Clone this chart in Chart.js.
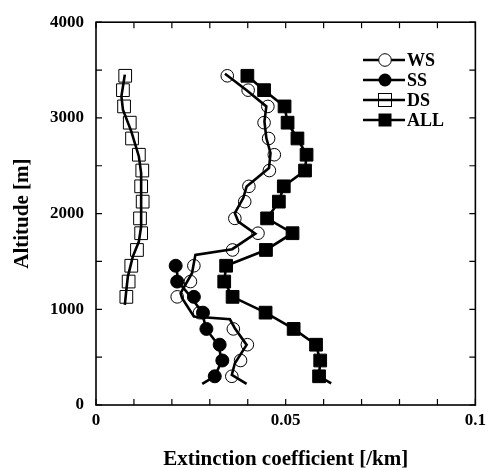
<!DOCTYPE html>
<html>
<head>
<meta charset="utf-8">
<script src="https://cdn.jsdelivr.net/npm/chart.js@4.4.1/dist/chart.umd.min.js"></script>
<style>
  html, body { margin: 0; padding: 0; background: #ffffff; }
  #wrap { width: 491px; height: 470px; position: relative; }
</style>
</head>
<body>
<div id="wrap"><canvas id="c" width="491" height="470"></canvas></div>
<script>
// ---- data ----
const altitudes = [300, 465, 630, 795, 965, 1130, 1290, 1455, 1620, 1795, 1950, 2125, 2285, 2450, 2615, 2785, 2950, 3120, 3290, 3440];

const allValues = [0.0588, 0.0591, 0.0580, 0.0521, 0.0447, 0.0360, 0.0338, 0.0343, 0.0448, 0.0518, 0.0451, 0.0482, 0.0495, 0.0551, 0.0555, 0.0531, 0.0505, 0.0497, 0.0443, 0.0399];
const wsValues  = [0.0358, 0.0381, 0.0399, 0.0362, 0.0273, 0.0214, 0.0249, 0.0258, 0.0360, 0.0427, 0.0366, 0.0392, 0.0403, 0.0457, 0.0470, 0.0455, 0.0443, 0.0453, 0.0401, 0.0346];
const ssAltitudes = [300, 465, 630, 795, 965, 1130, 1290, 1455];
const ssValues  = [0.0313, 0.0333, 0.0326, 0.0291, 0.0282, 0.0258, 0.0214, 0.0210];
const dsAltitudes = [1130, 1290, 1455, 1620, 1795, 1950, 2125, 2285, 2450, 2615, 2785, 2950, 3120, 3290, 3440];
const dsValues  = [0.0080, 0.0086, 0.0093, 0.0108, 0.0119, 0.0116, 0.0123, 0.0119, 0.0122, 0.0113, 0.0095, 0.0089, 0.0074, 0.0071, 0.0077];

// smoothed profile lines
const wsLineAlt = [220, 314, 436, 628, 802, 896, 924, 1116, 1168, 1377, 1569, 1628, 1790, 1917, 2005, 2162, 2283, 2476, 2633, 2789, 2963, 3120, 3288, 3462];
const wsLineVal = [0.0397, 0.0358, 0.0366, 0.0397, 0.0366, 0.0353, 0.0258, 0.0227, 0.0223, 0.0253, 0.0262, 0.0359, 0.0420, 0.0375, 0.0366, 0.0388, 0.0397, 0.0456, 0.0460, 0.0449, 0.0444, 0.0449, 0.0397, 0.0340];
const ssLineAlt = [220, 300, 465, 630, 795, 965, 1130, 1290, 1455];
const ssLineVal = [0.0280, 0.0313, 0.0332, 0.0322, 0.0290, 0.0280, 0.0250, 0.0216, 0.0212];
const dsLineAlt = [1046, 1203, 1342, 1551, 1708, 1865, 2214, 2423, 2597, 2859, 3086, 3225, 3452];
const dsLineVal = [0.0076, 0.0080, 0.0084, 0.0097, 0.0113, 0.0119, 0.0119, 0.0119, 0.0113, 0.0093, 0.0071, 0.0067, 0.0076];
const allLineAlt = [226, 300, 465, 630, 795, 965, 1130, 1290, 1455, 1620, 1795, 1950, 2125, 2285, 2450, 2615, 2785, 2950, 3120, 3290, 3440];
const allLineVal = [0.0620, 0.0588, 0.0591, 0.0580, 0.0521, 0.0447, 0.0360, 0.0338, 0.0343, 0.0448, 0.0518, 0.0451, 0.0482, 0.0495, 0.0551, 0.0555, 0.0531, 0.0505, 0.0497, 0.0443, 0.0399];

const xTickLabels = {0: '0', 5: '0.05', 10: '0.1'};   // keyed by hundredths
const yTickLabels = ['0', '1000', '2000', '3000', '4000'];
const legendLabels = ['WS', 'SS', 'DS', 'ALL'];
const xTitle = 'Extinction coefficient [/km]';
const yTitle = 'Altitude [m]';

const pts = (xs, ys) => xs.map((v, i) => ({x: v, y: ys[i]}));
const FONT = "'Liberation Serif', 'Times New Roman', serif";

const lineDS = (xs, ys) => ({
  data: pts(xs, ys), showLine: true, pointRadius: 0, borderColor: '#000',
  borderWidth: 2.6, tension: 0, order: 0, fill: false
});
const markDS = (xs, ys, style, r, fillCol, bw) => ({
  data: pts(xs, ys), showLine: false, pointStyle: style, pointRadius: r,
  pointBackgroundColor: fillCol, pointBorderColor: '#000', pointBorderWidth: bw,
  order: 1
});

const frameAndTicks = {
  id: 'frameAndTicks',
  afterDraw(chart) {
    const {ctx, chartArea: a, scales: {x, y}} = chart;
    ctx.save();
    ctx.strokeStyle = '#000';
    ctx.lineWidth = 1.2;
    const L = 6;
    ctx.beginPath();
    for (let k = 0; k <= 10; k++) {
      const px = x.getPixelForValue(k / 100);
      ctx.moveTo(px, a.bottom); ctx.lineTo(px, a.bottom - L);
      ctx.moveTo(px, a.top); ctx.lineTo(px, a.top + L);
    }
    for (let v = 0; v <= 4000; v += 500) {
      const py = y.getPixelForValue(v);
      ctx.moveTo(a.left, py); ctx.lineTo(a.left + L, py);
      ctx.moveTo(a.right, py); ctx.lineTo(a.right - L, py);
    }
    ctx.stroke();
    ctx.lineWidth = 1.6;
    ctx.strokeRect(a.left, a.top, a.right - a.left, a.bottom - a.top);
    ctx.restore();
  }
};

const legendPlugin = {
  id: 'customLegend',
  afterDraw(chart) {
    const {ctx} = chart;
    const rows = [60, 80, 100, 120];
    const x0 = 363, x1 = 405, xm = 385;
    ctx.save();
    ctx.font = "bold 18px " + FONT;
    ctx.textBaseline = 'middle';
    ctx.fillStyle = '#000';
    legendLabels.forEach((lab, i) => {
      const yy = rows[i];
      ctx.strokeStyle = '#000';
      ctx.lineWidth = 2.6;
      ctx.beginPath(); ctx.moveTo(x0, yy); ctx.lineTo(x1, yy); ctx.stroke();
      ctx.lineWidth = 1;
      if (i === 0) {
        ctx.beginPath(); ctx.arc(xm, yy, 6.3, 0, Math.PI * 2);
        ctx.fillStyle = '#fff'; ctx.fill(); ctx.stroke();
      } else if (i === 1) {
        ctx.beginPath(); ctx.arc(xm, yy, 6.5, 0, Math.PI * 2);
        ctx.fillStyle = '#000'; ctx.fill();
      } else if (i === 2) {
        ctx.strokeRect(xm - 6.5, yy - 6.5, 13, 13);
      } else {
        ctx.fillStyle = '#000'; ctx.fillRect(xm - 6.5, yy - 6.5, 13, 13);
      }
      ctx.fillStyle = '#000';
      ctx.fillText(lab, x1 + 2, yy + 1);
    });
    ctx.restore();
  }
};

new Chart(document.getElementById('c'), {
  type: 'scatter',
  data: {
    datasets: [
      lineDS(wsLineVal, wsLineAlt),
      lineDS(ssLineVal, ssLineAlt),
      lineDS(dsLineVal, dsLineAlt),
      lineDS(allLineVal, allLineAlt),
      markDS(wsValues, altitudes, 'circle', 6.3, 'rgba(255,255,255,0)', 1),
      markDS(ssValues, ssAltitudes, 'circle', 6.5, '#000', 1),
      markDS(dsValues, dsAltitudes, 'rect', 9, 'rgba(255,255,255,0)', 1),
      markDS(allValues, altitudes, 'rect', 9, '#000', 1)
    ]
  },
  options: {
    responsive: false,
    animation: false,
    devicePixelRatio: 1,
    layout: { padding: { top: 22, right: 11, left: 0, bottom: 0 } },
    plugins: { legend: { display: false }, tooltip: { enabled: false } },
    scales: {
      x: {
        type: 'linear', min: 0, max: 0.1,
        grid: { display: false, drawTicks: false },
        border: { display: false },
        afterFit: s => { s.height = 65; },
        ticks: {
          stepSize: 0.01, padding: 5, maxRotation: 0, autoSkip: false,
          color: '#000', font: { family: FONT, weight: 'bold', size: 17 },
          callback: v => { const k = Math.round(v * 100); return xTickLabels[k] !== undefined ? xTickLabels[k] : ''; }
        },
        title: { display: true, text: xTitle, color: '#000',
                 font: { family: FONT, weight: 'bold', size: 21, lineHeight: 1 },
                 padding: { top: 0, bottom: 0 } }
      },
      y: {
        type: 'linear', min: 0, max: 4000,
        grid: { display: false, drawTicks: false },
        border: { display: false },
        afterFit: s => { s.width = 96; },
        ticks: {
          stepSize: 1000, padding: 12, color: '#000',
          font: { family: FONT, weight: 'bold', size: 17 },
          callback: (v) => yTickLabels[Math.round(v / 1000)]
        },
        title: { display: true, text: yTitle, color: '#000',
                 font: { family: FONT, weight: 'bold', size: 21, lineHeight: 1 },
                 padding: { top: 12, bottom: 0 } }
      }
    }
  },
  plugins: [frameAndTicks, legendPlugin]
});
</script>
</body>
</html>
